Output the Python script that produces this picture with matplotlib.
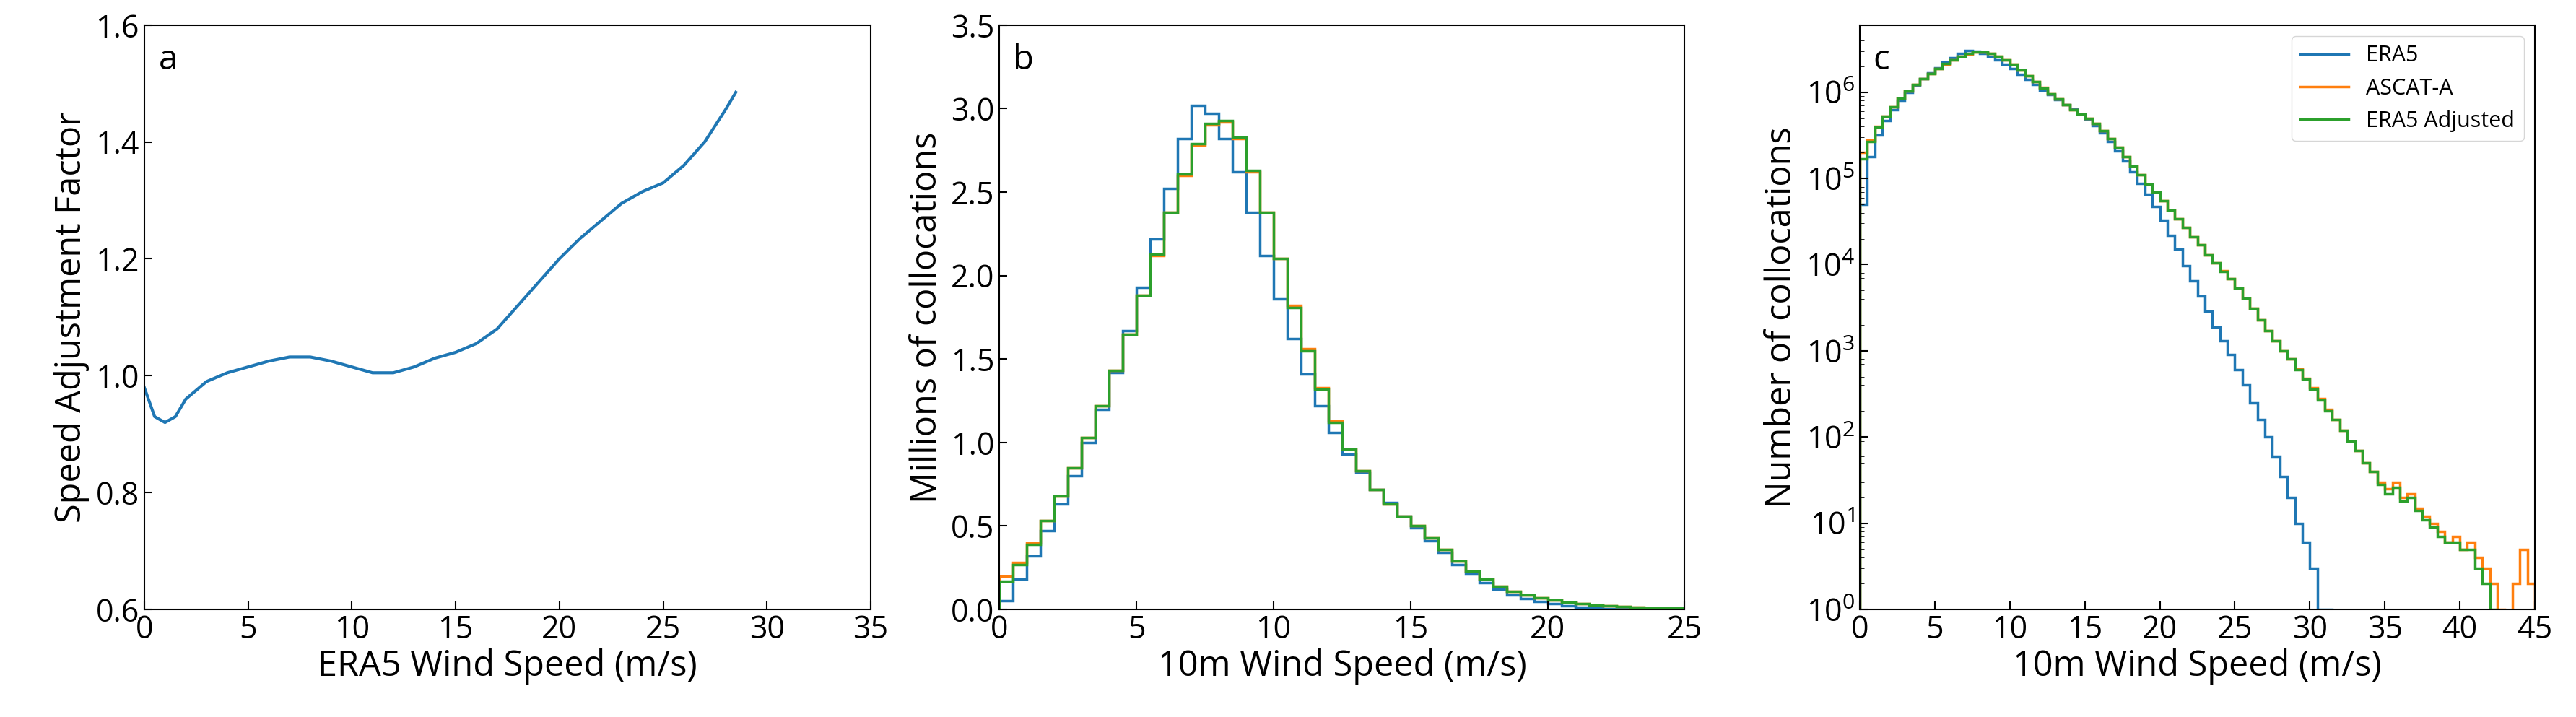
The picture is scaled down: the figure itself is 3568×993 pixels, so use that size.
import matplotlib
matplotlib.use('Agg')
import matplotlib.pyplot as plt
import numpy as np

plt.rcParams['font.family'] = ['Open Sans', 'DejaVu Sans']

# panel a: adjustment factor
adj_speed = [0, 0.5, 1, 1.5, 2, 3, 4, 5, 6, 7, 8, 9, 10, 11, 12, 13, 14, 15, 16, 17,
             18, 19, 20, 21, 22, 23, 24, 25, 26, 27, 28, 28.5]
adj_factor = [0.98, 0.93, 0.92, 0.93, 0.96, 0.99, 1.005, 1.015, 1.025, 1.032, 1.032, 1.025,
              1.015, 1.005, 1.005, 1.015, 1.03, 1.04, 1.055, 1.08, 1.12, 1.16, 1.2, 1.235,
              1.265, 1.295, 1.315, 1.33, 1.36, 1.4, 1.455, 1.485]

# histogram bin edges (m/s), counts in millions per bin
bin_edges = np.arange(0, 45.5, 0.5)
era5 = [0.05, 0.18, 0.32, 0.47, 0.63, 0.8, 1.0, 1.2, 1.42, 1.67, 1.93, 2.22, 2.52, 2.82, 3.02,
        2.97, 2.82, 2.62, 2.38, 2.12, 1.86, 1.62, 1.41, 1.22, 1.06, 0.93, 0.82, 0.72, 0.64,
        0.56, 0.49, 0.41, 0.34, 0.27, 0.21, 0.16, 0.12, 0.088, 0.065, 0.047, 0.033, 0.022,
        0.015, 0.0098, 0.0065, 0.0043, 0.0029, 0.0019, 0.0013, 0.0009, 0.0006, 0.0004,
        0.00025, 0.00016, 0.0001, 6e-5, 3.5e-5, 2e-5, 1e-5, 6e-6, 3e-6, 1e-6, 1e-6, 0,
        0, 0, 0, 0, 0, 0, 0, 0, 0, 0, 0, 0, 0, 0, 0, 0, 0, 0, 0, 0, 0, 0, 0, 0, 0, 0]
ascat = [0.2, 0.28, 0.4, 0.53, 0.68, 0.85, 1.03, 1.22, 1.43, 1.65, 1.88, 2.12, 2.38, 2.6, 2.78,
         2.9, 2.92, 2.82, 2.62, 2.38, 2.1, 1.82, 1.56, 1.33, 1.13, 0.96, 0.83, 0.72, 0.63,
         0.56, 0.5, 0.43, 0.36, 0.29, 0.23, 0.18, 0.14, 0.11, 0.085, 0.07, 0.055, 0.043,
         0.034, 0.027, 0.021, 0.017, 0.013, 0.0105, 0.0085, 0.0068, 0.0053, 0.0041, 0.0031,
         0.0023, 0.0017, 0.0013, 0.001, 0.0008, 0.00062, 0.00048, 0.00037, 0.00028, 0.00021,
         0.00016, 0.00012, 9e-5, 7e-5, 5e-5, 4e-5, 3e-5, 2.5e-5, 3e-5, 2e-5, 2.2e-5, 1.5e-5,
         1.2e-5, 1e-5, 8e-6, 6e-6, 7e-6, 5e-6, 6e-6, 4e-6, 3e-6, 2e-6, 1e-6, 0, 2e-6, 5e-6, 2e-6]
era5_adj = [0.17, 0.27, 0.39, 0.53, 0.68, 0.85, 1.03, 1.22, 1.43, 1.65, 1.88, 2.13, 2.38, 2.61,
            2.79, 2.91, 2.93, 2.83, 2.63, 2.38, 2.1, 1.81, 1.55, 1.32, 1.12, 0.96, 0.83, 0.72,
            0.63, 0.56, 0.5, 0.43, 0.36, 0.29, 0.23, 0.18, 0.14, 0.11, 0.086, 0.07, 0.055,
            0.043, 0.034, 0.027, 0.021, 0.017, 0.013, 0.0104, 0.0084, 0.0068, 0.0053, 0.0041,
            0.0031, 0.0023, 0.0017, 0.0013, 0.001, 0.0008, 0.0006, 0.00047, 0.00036, 0.00027,
            0.0002, 0.00016, 0.00012, 9e-5, 7e-5, 5e-5, 4e-5, 2.8e-5, 2.2e-5, 2.6e-5, 1.8e-5,
            2e-5, 1.4e-5, 1.1e-5, 9e-6, 7e-6, 6e-6, 6e-6, 5e-6, 5e-6, 3e-6, 2e-6, 1e-6, 0, 0,
            0, 0, 0]

colors = ['#1f77b4', '#ff7f0e', '#2ca02c']
names = ['ERA5', 'ASCAT-A', 'ERA5 Adjusted']
series = [era5, ascat, era5_adj]

fig = plt.figure(figsize=(35.68, 9.93), dpi=100)
bottom, height = 0.15, 0.815
axa = fig.add_axes([0.056, bottom, 0.282, height])
axb = fig.add_axes([0.388, bottom, 0.266, height])
axc = fig.add_axes([0.722, bottom, 0.262, height])

lab = 35
tick = 31

axa.plot(adj_speed, adj_factor, color=colors[0], lw=3)
axa.set_xlim(0, 35)
axa.set_ylim(0.6, 1.6)
axa.set_xticks(np.arange(0, 36, 5))
axa.set_yticks(np.arange(0.6, 1.61, 0.2))
axa.set_xlabel('ERA5 Wind Speed (m/s)', fontsize=lab, labelpad=2)
axa.set_ylabel('Speed Adjustment Factor', fontsize=lab, labelpad=6)
axa.text(0.02, 0.97, 'a', transform=axa.transAxes, fontsize=34, va='top')

for s, c in zip(series, colors):
    axb.stairs(s, bin_edges, color=c, lw=2.5)
axb.set_xlim(0, 25)
axb.set_ylim(0, 3.5)
axb.set_xticks(np.arange(0, 26, 5))
axb.set_yticks(np.arange(0, 3.51, 0.5))
axb.set_xlabel('10m Wind Speed (m/s)', fontsize=lab, labelpad=2)
axb.set_ylabel('Millions of collocations', fontsize=lab, labelpad=6)
axb.text(0.02, 0.97, 'b', transform=axb.transAxes, fontsize=34, va='top')

for s, c, n in zip(series, colors, names):
    counts = np.array(s) * 1e6
    counts = np.where(counts > 0, counts, 1e-3)
    axc.stairs(counts, bin_edges, color=c, lw=2.5, label=n)
axc.set_yscale('log')
axc.set_xlim(0, 45)
axc.set_ylim(1, 6e6)
axc.set_xticks(np.arange(0, 46, 5))
axc.set_xlabel('10m Wind Speed (m/s)', fontsize=lab, labelpad=2)
axc.set_ylabel('Number of collocations', fontsize=lab, labelpad=6)
axc.text(0.02, 0.97, 'c', transform=axc.transAxes, fontsize=34, va='top')
axc.legend(loc='upper right', fontsize=22, handlelength=2.2)

for ax in (axa, axb, axc):
    ax.tick_params(direction='in', labelsize=tick, length=8, width=1.5, pad=5)
    ax.tick_params(which='minor', direction='in', length=4)
    for sp in ax.spines.values():
        sp.set_linewidth(1.5)

fig.savefig('out.png', dpi=100)
